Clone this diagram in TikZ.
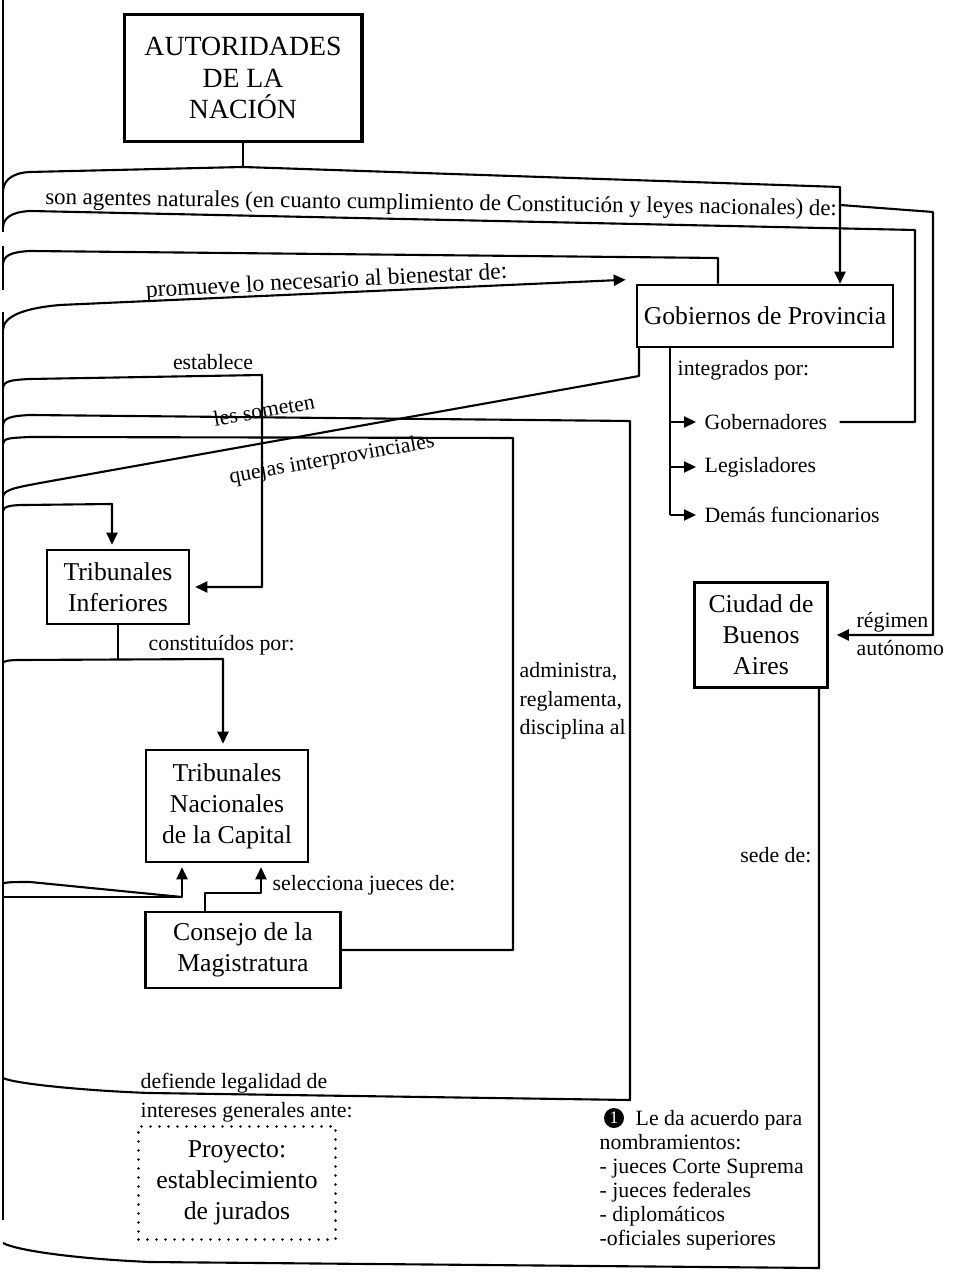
\documentclass[tikz,border=0pt]{standalone}
\usepackage{fontspec}
\setmainfont{Liberation Serif}
\usetikzlibrary{arrows.meta}

\tikzset{
  box/.style={draw, line width=0.7pt, align=center, inner sep=0pt,
    font=\fontsize{7.3}{8.8}\selectfont},
  lbl/.style={inner sep=0pt, font=\fontsize{6.2}{7.4}\selectfont},
  conn/.style={line width=0.6pt, line join=round},
  arr/.style={conn, -{Triangle[length=0.12cm,width=0.11cm]}},
}

\begin{document}
\begin{tikzpicture}[x=0.01cm, y=-0.01cm]
  \useasboundingbox (0,0) rectangle (961,1274);

  % boxes
  \node[box, line width=1.1pt, font=\fontsize{7.9}{9}\selectfont,
    minimum width=2.37cm, minimum height=1.27cm] (aut) at (243,78) {AUTORIDADES\\DE LA\\NACIÓN};
  \node[box, minimum width=2.56cm, minimum height=0.62cm] (gob) at (765,316) {Gobiernos de Provincia};
  \node[box, minimum width=1.42cm, minimum height=0.74cm] (trinf) at (118,587) {Tribunales\\Inferiores};
  \node[box, minimum width=1.62cm, minimum height=1.12cm] (trinac) at (227,806) {Tribunales\\Nacionales\\de la Capital};
  \node[box, minimum width=1.95cm, minimum height=0.76cm] (consejo) at (243,950) {Consejo de la\\Magistratura};
  \node[box, minimum width=1.33cm, minimum height=1.05cm] (ciudad) at (761,635) {Ciudad de\\Buenos\\Aires};
  \node[box, line width=0.8pt, dash pattern=on 0pt off 0.09cm, line cap=round,
    minimum width=1.97cm, minimum height=1.13cm] (proy) at (237,1183) {Proyecto:\\establecimiento\\de jurados};

  % labels
  \node[lbl, anchor=base, rotate=-0.8, font=\fontsize{6.5}{7}\selectfont] (agentes) at (441,210)
    {son agentes naturales (en cuanto cumplimiento de Constitución y leyes nacionales) de:};
  \node[lbl, anchor=base, rotate=3, font=\fontsize{6.7}{7}\selectfont] (promueve) at (327,288)
    {promueve lo necesario al bienestar de:};
  \node[lbl] (establece) at (213,362) {establece};
  \node[lbl, rotate=10] (someten) at (264,410) {les someten};
  \node[lbl, rotate=10] (quejas) at (332,460) {quejas interprovinciales};
  \node[lbl, anchor=west] (integrados) at (677,370) {integrados por:};
  \node[lbl, anchor=west] (gobernadores) at (704,422) {Gobernadores};
  \node[lbl, anchor=west] (legisladores) at (704,467) {Legisladores};
  \node[lbl, anchor=west] (demas) at (704,515) {Demás funcionarios};
  \node[lbl, anchor=west] (regimen) at (856,622) {régimen};
  \node[lbl, anchor=west] (autonomo) at (856,648) {autónomo};
  \node[lbl, anchor=west] (constituidos) at (148,645) {constituídos por:};
  \node[lbl, anchor=north west, align=left, font=\fontsize{6.2}{8.1}\selectfont] (administra) at (519,662)
    {administra,\\reglamenta,\\disciplina al};
  \node[lbl, anchor=west] (selecciona) at (272,885) {selecciona jueces de:};
  \node[lbl, anchor=east] (sede) at (812,855) {sede de:};
  \node[lbl, anchor=west] (defiende) at (140,1083) {defiende legalidad de};
  \node[lbl, anchor=west] (intereses) at (140,1112) {intereses generales ante:};
  \node[circle, fill=black, inner sep=0pt, minimum size=0.2cm, text=white,
    font=\fontsize{5}{5}\selectfont] (num) at (614,1118) {1};
  \node[lbl, anchor=north west, align=left, font=\fontsize{6.2}{6.8}\selectfont] (acuerdo) at (599,1110)
    {\hspace*{0.36cm}Le da acuerdo para\\nombramientos:\\- jueces Corte Suprema\\- jueces federales\\- diplomáticos\\-oficiales superiores};

  % left edge
  \draw[conn] (3,0) -- (3,232) (3,246) -- (3,290) (3,312) -- (3,1220);
  \coordinate (lA) at (3,192);
  \coordinate (lB) at (3,228);
  \coordinate (lC) at (3,265);
  \coordinate (lD) at (3,330);
  \coordinate (lF) at (3,389);
  \coordinate (lG) at (3,426);
  \coordinate (lI) at (3,444);
  \coordinate (lE) at (3,497);
  \coordinate (lH) at (3,511);
  \coordinate (lJ) at (3,663);
  \coordinate (lK) at (3,884);
  \coordinate (lL) at (3,897);
  \coordinate (lM) at (3,1078);
  \coordinate (lN) at (3,1243);

  % bends
  \coordinate (a1) at (243,167);
  \coordinate (a2) at (840,187);
  \coordinate (a3) at (840,205);
  \coordinate (a4) at (933,212);
  \coordinate (b1) at (915,230);
  \coordinate (c1) at (718,258);
  \coordinate (f1) at (262,375);
  \coordinate (g1) at (630,421);
  \coordinate (g2) at (630,1100);
  \coordinate (i1) at (513,438);
  \coordinate (e1) at (639,376);
  \coordinate (h1) at (112,504);
  \coordinate (j1) at (223,659);
  \coordinate (k1) at (182,897);
  \coordinate (s1) at (205,893);
  \coordinate (s2) at (261,893);
  \coordinate (v1) at (670,515);
  \coordinate (q1) at (819,1268);

  % connectors
  \draw[conn] (aut.south) -- (a1);
  \draw[arr] (lA) .. controls +(0,-10) and +(-20,1) .. (30,172) -- (a1) -- (a2) -- (a2 |- gob.north);
  \draw[arr, shorten >=0.08cm] (a3) -- (a4) -- (a4 |- ciudad.east) -- (ciudad.east);
  \draw[conn, shorten <=0.12cm] (gobernadores.east) -- (b1 |- gobernadores.east) -- (b1)
    -- (30,211) .. controls +(-20,1) and +(0,-9) .. (lB);
  \draw[conn] (lC) .. controls +(0,-9) and +(-20,1) .. (30,251) -- (c1) -- (c1 |- gob.north);
  \draw[arr] (lD) .. controls +(0,-14) and +(-35,3) .. (60,305)
    -- ([xshift=-0.1cm,yshift=0.04cm]gob.north west);
  \draw[arr, shorten >=0.05cm] (lF) .. controls +(0,-8) and +(-20,1) .. (30,379)
    -- (f1) -- (f1 |- trinf.east) -- (trinf.east);
  \draw[conn] (lG) .. controls +(0,-8) and +(-20,1) .. (30,415) -- (g1) -- (g2)
    -- (150,1093) .. controls +(-60,-2) and +(12,6) .. (lM);
  \draw[conn] (lI) .. controls +(0,-6) and +(-20,1) .. (30,437) -- (i1)
    -- (i1 |- consejo.east) -- (consejo.east);
  \draw[conn] (e1 |- gob.south) -- (e1) -- (40,483) .. controls +(-20,4) and +(0,-8) .. (lE);
  \draw[arr, shorten >=0.04cm] (lH) .. controls +(0,-5) and +(-12,0) .. (25,505)
    -- (h1) -- (h1 |- trinf.north);
  \draw[conn] (trinf.south) -- (trinf.south |- j1);
  \draw[arr, shorten >=0.05cm] (lJ) .. controls +(0,-2) and +(-10,0) .. (20,660)
    -- (j1) -- (j1 |- trinac.north);
  \draw[conn] (lK) .. controls +(0,-2) and +(-15,0) .. (30,882) -- (k1);
  \draw[arr, shorten >=0.04cm] (lL) -- (k1) -- (k1 |- trinac.south);
  \draw[arr, shorten >=0.04cm] (s1 |- consejo.north) -- (s1) -- (s2) -- (s2 |- trinac.south);

  % integrados por
  \draw[conn] (v1 |- gob.south) -- (v1);
  \foreach \t in {gobernadores,legisladores,demas}
    \draw[arr, shorten >=0.08cm] (v1 |- \t.west) -- (\t.west);

  % sede de
  \draw[conn] (q1 |- ciudad.south) -- (q1) -- (150,1262)
    .. controls +(-70,-3) and +(15,8) .. (lN);
\end{tikzpicture}
\end{document}
